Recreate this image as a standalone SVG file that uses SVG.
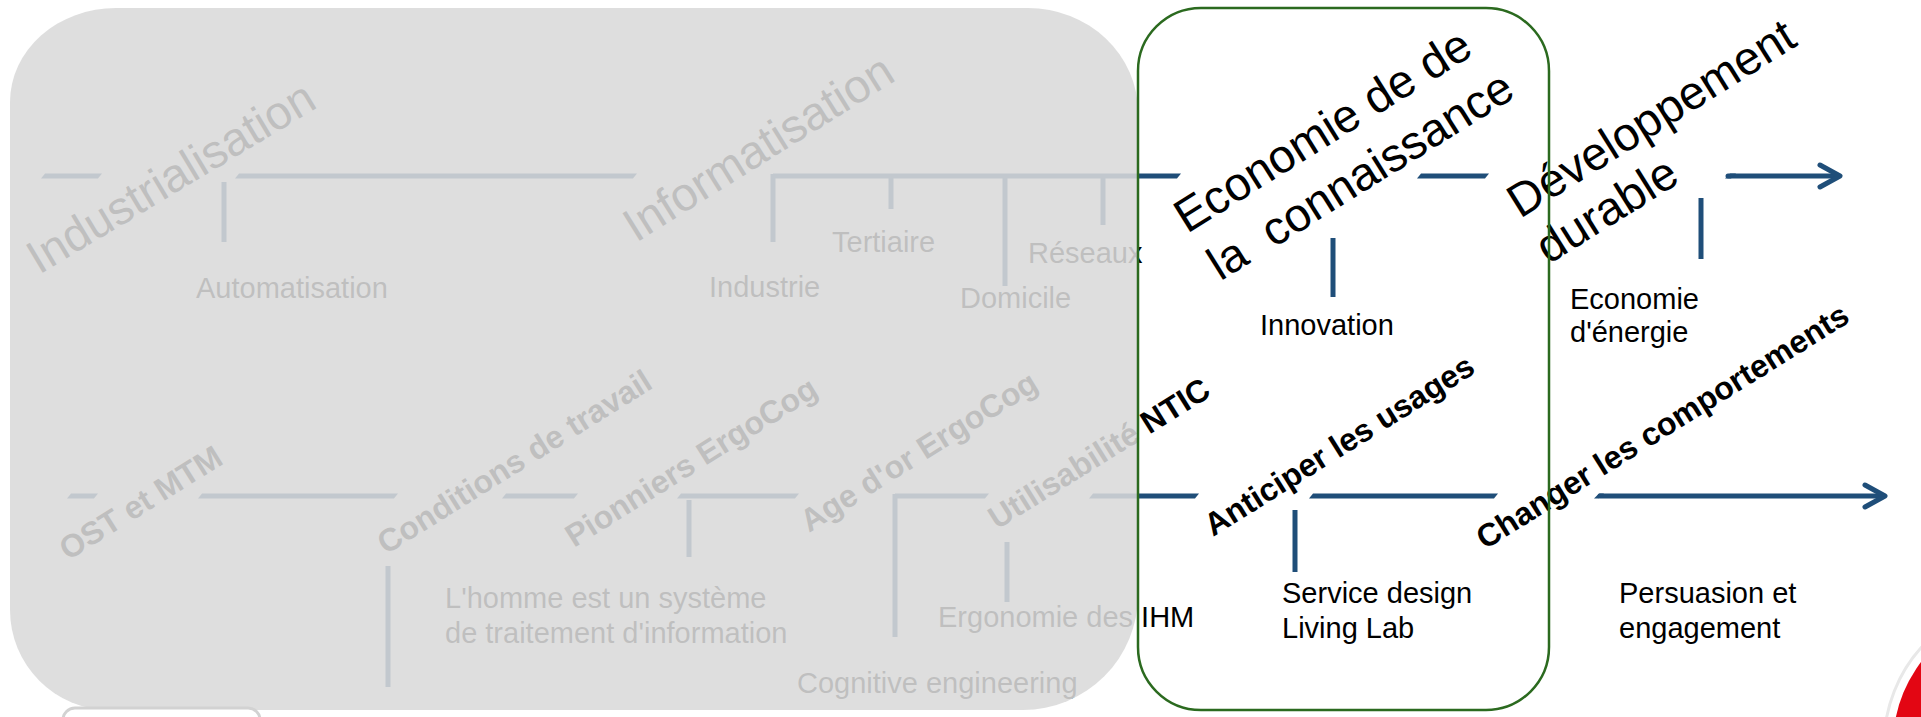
<svg xmlns="http://www.w3.org/2000/svg" width="1921" height="717" viewBox="0 0 1921 717">
<defs>
<style>
.lbl{font-family:"Liberation Sans",Arial,sans-serif;font-size:29px;fill:#000}
.big{font-family:"Liberation Sans",Arial,sans-serif;font-size:47px;fill:#000}
.rot{font-family:"Liberation Sans",Arial,sans-serif;font-size:32px;font-weight:bold;fill:#000}
.seg{fill:#1f4e79}
.tick{stroke:#1f4e79;stroke-width:5;fill:none}
.arrow{stroke:#1f4e79;stroke-width:5;fill:none;stroke-linecap:round;stroke-linejoin:round}
</style>
</defs>
<rect width="1921" height="717" fill="#ffffff"/>

<g id="connectors">
<!-- top row -->
<polygon class="seg" points="41,178.5 98,178.5 102,173.5 45,173.5"/>
<polygon class="seg" points="235,178.5 633,178.5 637,173.5 239,173.5"/>
<polygon class="seg" points="773,178.5 1177,178.5 1181,173.5 773,173.5"/>
<polygon class="seg" points="1417,178.5 1485,178.5 1489,173.5 1421,173.5"/>
<polyline class="arrow" points="1728,176 1838,176"/>
<polygon class="seg" points="1725,178.5 1730,173.5 1736,173.5 1731,178.5"/>
<polyline class="arrow" points="1820,165 1840,176 1820,187"/>
<line class="tick" x1="224" y1="182" x2="224" y2="242"/>
<line class="tick" x1="773" y1="174" x2="773" y2="242"/>
<line class="tick" x1="891" y1="176" x2="891" y2="209"/>
<line class="tick" x1="1005" y1="176" x2="1005" y2="286"/>
<line class="tick" x1="1103" y1="176" x2="1103" y2="225"/>
<line class="tick" x1="1333" y1="238" x2="1333" y2="297"/>
<line class="tick" x1="1701" y1="198" x2="1701" y2="259"/>
<!-- bottom row -->
<polygon class="seg" points="67,498.5 94,498.5 98,493.5 71,493.5"/>
<polygon class="seg" points="198,498.5 394,498.5 398,493.5 202,493.5"/>
<polygon class="seg" points="502,498.5 574,498.5 578,493.5 506,493.5"/>
<polygon class="seg" points="677,498.5 795,498.5 799,493.5 681,493.5"/>
<polygon class="seg" points="895,498.5 985,498.5 989,493.5 895,493.5"/>
<polygon class="seg" points="1089,498.5 1195,498.5 1199,493.5 1093,493.5"/>
<polygon class="seg" points="1309,498.5 1494,498.5 1498,493.5 1313,493.5"/>
<polyline class="arrow" points="1600,496 1883,496"/>
<polygon class="seg" points="1594,498.5 1599,493.5 1604,493.5 1599,498.5"/>
<polyline class="arrow" points="1865,485 1885,496 1865,507"/>
<line class="tick" x1="388" y1="566" x2="388" y2="687"/>
<line class="tick" x1="689" y1="500" x2="689" y2="557"/>
<line class="tick" x1="895" y1="494" x2="895" y2="637"/>
<line class="tick" x1="1007" y1="542" x2="1007" y2="602"/>
<line class="tick" x1="1295" y1="510" x2="1295" y2="572"/>
</g>

<g id="industrialisation">
<text class="big" transform="translate(39,275) rotate(-31)">Industrialisation</text>
<text class="lbl" x="196" y="298">Automatisation</text>
</g>
<g id="informatisation">
<text class="big" transform="translate(636,243) rotate(-32)">Informatisation</text>
<text class="lbl" x="709" y="297">Industrie</text>
<text class="lbl" x="832" y="252">Tertiaire</text>
<text class="lbl" x="960" y="308">Domicile</text>
<text class="lbl" x="1028" y="263">Réseaux</text>
</g>
<g id="ost-mtm">
<text class="rot" transform="translate(68,561) rotate(-32)">OST et MTM</text>
</g>
<g id="conditions-travail">
<text class="rot" transform="translate(386,555) rotate(-32)">Conditions de travail</text>
</g>
<g id="pionniers">
<text class="rot" transform="translate(574,548) rotate(-32)">Pionniers ErgoCog</text>
<text class="lbl" x="445" y="608">L'homme est un système</text>
<text class="lbl" x="445" y="643">de traitement d'information</text>
</g>
<g id="age-or">
<text class="rot" transform="translate(809,533) rotate(-32)">Age d'or ErgoCog</text>
<text class="lbl" x="797" y="693">Cognitive engineering</text>
</g>
<g id="utilisabilite">
<text class="rot" transform="translate(997,530) rotate(-32)">Utilisabilité NTIC</text>
<text class="lbl" x="938" y="627">Ergonomie des IHM</text>
</g>

<path id="past-overlay" d="M116,8 H1028 A110,104 0 0 1 1138,112 V595 A115,115 0 0 1 1023,710 H110 A100,100 0 0 1 10,610 V102 A106,94 0 0 1 116,8 Z" fill="#d9d9d9" fill-opacity="0.88"/>

<g id="economie-connaissance">
<text class="big" transform="translate(1187,234) rotate(-32)"><tspan x="0" y="0">Economie de de</tspan><tspan x="3" y="58" style="white-space:pre">la  connaissance</tspan></text>
<text class="lbl" x="1260" y="335">Innovation</text>
</g>
<g id="anticiper-usages">
<text class="rot" transform="translate(1213,537) rotate(-32)">Anticiper les usages</text>
<text class="lbl" x="1282" y="603">Service design</text>
<text class="lbl" x="1282" y="638">Living Lab</text>
</g>
<g id="developpement-durable">
<text class="big" transform="translate(1520,219) rotate(-32)"><tspan x="0" y="0">Développement</tspan><tspan x="0" y="54">durable</tspan></text>
<text class="lbl" x="1570" y="309">Economie</text>
<text class="lbl" x="1570" y="342">d'énergie</text>
</g>
<g id="changer-comportements">
<text class="rot" transform="translate(1485,550) rotate(-32)">Changer les comportements</text>
<text class="lbl" x="1619" y="603">Persuasion et</text>
<text class="lbl" x="1619" y="638">engagement</text>
</g>

<rect id="present-frame" x="1138" y="8" width="411" height="702" rx="63" ry="63" fill="none" stroke="#2b6a1f" stroke-width="2.5"/>

<rect id="corner-box" x="63" y="708" width="197" height="40" rx="12" fill="#ffffff" stroke="#d2d2d2" stroke-width="3"/>
<circle id="corner-logo-rim" cx="2030" cy="745" r="146" fill="none" stroke="#e8e8e8" stroke-width="3"/>
<circle id="corner-logo" cx="2030" cy="745" r="137" fill="#e30613"/>
</svg>
